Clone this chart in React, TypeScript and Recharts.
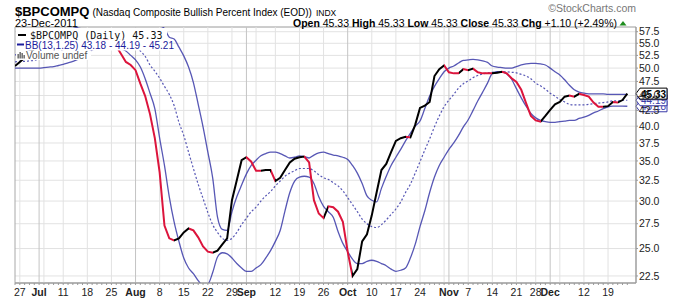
import { LineChart, Line, XAxis, YAxis, CartesianGrid, ReferenceLine, ReferenceArea } from 'recharts';

// Daily closes, 24-Jun-2011 .. 23-Dec-2011 (one value per trading day)
const close = [
  50.4, 51.2, 52.0, 53.0, 53.8, 54.4, 55.0, 55.4, 55.6, 56.0,
  56.4, 56.6, 57.0, 57.2, 57.0, 56.8, 57.0, 56.6, 56.2, 55.8,
  55.2, 54.4, 52.8, 51.2, 50.6, 49.6, 47.1, 44.9, 41.9, 38.2,
  33.5, 27.3, 26.0, 25.8, 26.0, 26.6, 27.0, 26.8, 26.1, 25.2,
  24.7, 24.6, 24.8, 25.4, 26.0, 30.1, 32.5, 35.1, 35.5, 34.9,
  33.7, 33.7, 33.8, 33.8, 32.4, 32.8, 33.8, 34.8, 35.3, 35.5,
  35.6, 34.8, 30.1, 28.6, 28.1, 29.4, 29.3, 28.8, 27.7, 24.7,
  22.5, 23.1, 25.7, 26.4, 28.4, 31.0, 33.8, 34.6, 36.2, 37.8,
  38.2, 38.4, 38.3, 40.2, 42.9, 43.3, 43.9, 48.5, 49.8, 50.5,
  49.2, 49.0, 49.0, 49.8, 49.6, 49.9, 49.2, 49.0, 49.0, 49.0,
  49.1, 49.3, 49.0, 48.1, 47.4, 46.0, 43.7, 41.6, 40.9, 40.7,
  41.6, 42.6, 43.5, 43.9, 44.8, 45.0, 44.8, 45.3, 45.1, 44.8,
  43.8, 43.1, 43.1, 43.2, 43.9, 43.8, 44.23, 45.33,
];

const bbUpper = [
  52.6, 52.8, 53.0, 53.4, 53.8, 54.4, 55.0, 55.6, 56.2, 56.8,
  57.3, 57.8, 58.2, 58.5, 58.8, 58.9, 59.0, 59.0, 59.0, 58.9,
  58.8, 58.8, 59.0, 59.4, 59.8, 60.0, 60.0, 59.8, 59.4, 58.9,
  58.8, 58.2, 56.3, 55.9, 54.2, 52.4, 50.2, 47.3, 43.5, 39.9,
  36.2, 32.8, 28.2, 26.9, 26.8, 28.8, 30.5, 31.9, 33.3, 34.4,
  35.1, 35.7, 36.0, 36.2, 36.2, 36.0, 35.7, 35.4, 35.5, 35.7,
  35.6, 35.4, 35.8, 36.1, 36.2, 36.0, 35.8, 35.7, 35.5, 35.2,
  34.4, 33.4, 32.1, 30.6, 30.1, 29.9, 31.5, 33.0, 34.4, 35.5,
  36.6, 37.8, 38.9, 40.0, 40.8, 42.8, 44.9, 46.6, 48.0, 49.3,
  50.0, 50.4, 51.0, 51.5, 51.6, 51.7, 51.6, 51.4, 51.1, 50.4,
  50.2, 50.1, 50.0, 50.0, 50.3, 50.6, 50.8, 50.9, 50.9, 50.8,
  50.6, 50.0, 49.3, 48.7, 47.8, 46.8, 46.0, 45.6, 45.4, 45.3,
  45.3, 45.3, 45.3, 45.2, 45.2, 45.2, 45.2, 45.21,
];

const bbMid = [
  51.2, 51.3, 51.3, 51.4, 51.5, 51.8, 52.1, 52.5, 52.9, 53.3,
  53.7, 54.1, 54.5, 54.9, 55.3, 55.6, 55.9, 56.0, 56.1, 56.2,
  56.2, 56.1, 55.9, 55.5, 54.9, 54.2, 53.4, 52.3, 50.6, 49.4,
  48.1, 46.6, 45.2, 43.3, 40.6, 38.6, 36.2, 34.0, 32.0, 30.3,
  28.7, 27.4, 26.6, 26.0, 25.8, 26.0, 26.6, 27.4, 28.1, 28.8,
  29.3, 30.0, 30.6, 31.1, 31.8, 32.4, 33.0, 33.4, 33.7, 34.0,
  34.0, 34.0, 33.7, 33.2, 32.8, 32.6, 32.2, 31.8, 31.2, 30.4,
  29.6, 28.8, 28.0, 27.5, 27.2, 27.1, 27.4, 27.9, 28.5, 29.1,
  29.9, 31.0, 32.0, 33.4, 34.9, 36.5, 38.1, 39.9, 41.6, 43.1,
  44.2, 45.2, 46.3, 47.1, 47.6, 48.2, 48.6, 48.9, 49.1, 49.2,
  49.3, 49.3, 49.3, 49.2, 49.1, 48.8, 48.5, 48.0, 47.2, 46.7,
  46.1, 45.4, 44.9, 44.3, 43.9, 43.5, 43.4, 43.4, 43.4, 43.5,
  43.6, 43.7, 43.8, 43.9, 44.1, 44.1, 44.2, 44.19,
];

const bbLower = [
  50.0, 50.0, 50.0, 50.0, 50.0, 50.0, 50.1, 50.2, 50.3, 50.5,
  50.7, 51.0, 51.3, 51.7, 52.4, 53.0, 53.6, 54.0, 54.2, 54.3,
  54.2, 54.0, 53.8, 53.4, 52.5, 51.6, 50.2, 48.0, 45.4, 42.8,
  38.2, 34.4, 30.5, 27.7, 25.7, 24.1, 23.2, 22.7, 22.1, 21.7,
  21.8, 22.8, 24.2, 24.6, 24.5, 24.1, 23.6, 23.2, 22.9, 22.9,
  23.2, 23.5, 24.1, 24.8, 25.7, 26.8, 28.9, 31.0, 32.4, 32.9,
  33.0, 32.9, 32.1, 30.5, 29.4, 28.8, 28.2, 26.7, 25.5, 24.7,
  24.0, 23.6, 23.6, 23.8, 23.9, 23.8, 23.6, 23.4, 23.1, 22.9,
  23.0, 23.2, 24.1, 25.4, 27.2, 28.9, 31.0, 32.9, 34.4, 35.5,
  36.6, 37.5, 38.6, 39.9, 41.0, 42.5, 44.1, 45.6, 47.2, 49.0,
  49.3, 49.3, 48.9, 47.9, 46.2, 44.6, 43.2, 42.0, 41.3, 40.9,
  40.7, 40.6, 40.6, 40.7, 40.8, 40.9, 40.9, 41.2, 41.4, 41.7,
  42.1, 42.4, 42.8, 43.1, 43.2, 43.2, 43.2, 43.18,
];

// trading-day index of each date label on the x axis
const tickDays = [1, 5, 10, 15, 20, 25, 30, 35, 40, 45, 48, 54, 59, 64, 69, 74, 79, 84, 90, 94, 99, 104, 108, 111, 118, 123];
const tickLabels = ['27', 'Jul', '11', '18', '25', 'Aug', '8', '15', '22', '29', 'Sep', '12', '19', '26', 'Oct', '10', '17', '24', 'Nov', '7', '14', '21', '28', 'Dec', '12', '19'];
const monthNames = ['Jul', 'Aug', 'Sep', 'Oct', 'Nov', 'Dec'];

const weekLines = [1, 6, 10, 15, 20, 30, 35, 40, 45, 50, 54, 59, 64, 74, 79, 84, 89, 94, 99, 104, 108, 113, 118, 123];
const monthLines = [5, 25, 48, 69, 90, 111];

const yTicks = [22.5, 25, 27.5, 30, 32.5, 35, 37.5, 40, 42.5, 45, 47.5, 50, 52.5, 55, 57.5];

const lastClose = 45.33;
const lastBands = [43.18, 44.19, 45.21];

const X_MAX = 128.8;
const Y_MIN = 21.9;
const Y_MAX = 58.55;

const UP = '#000000';
const DOWN = '#dc143c';
const BAND = '#3a3aa8';
const FONT = '"Liberation Sans", Arial, sans-serif';

const data = close.map((c, i) => ({
  i,
  close: c,
  upper: bbUpper[i],
  mid: bbMid[i],
  lower: bbLower[i],
}));
const allDays = data.map((d) => d.i);

// black when the close rises, red when it falls: one hard-stop gradient along x
const gradStops: { offset: number; color: string }[] = [];
let prevColor = UP;
for (let i = 1; i < close.length; i++) {
  const color = close[i] > close[i - 1] ? UP : close[i] < close[i - 1] ? DOWN : prevColor;
  gradStops.push({ offset: (i - 1) / (close.length - 1), color });
  gradStops.push({ offset: i / (close.length - 1), color });
  prevColor = color;
}

function DayTick(props: any) {
  const { x, y, payload } = props;
  const k = tickDays.indexOf(payload.value);
  if (k < 0) return <g />;
  const label = tickLabels[k];
  const bold = monthNames.includes(label);
  return (
    <text x={x} y={y + 9} textAnchor="middle" fontSize={10.5} fontFamily={FONT} fontWeight={bold ? 700 : 400} fill="#222">
      {label}
    </text>
  );
}

function PriceTag(props: any) {
  const { viewBox, text, color, bold } = props;
  const x0 = viewBox.x + viewBox.width;
  const y = viewBox.y;
  const pts = `${x0},${y} ${x0 + 4},${y - 5.5} ${x0 + 31},${y - 5.5} ${x0 + 31},${y + 5.5} ${x0 + 4},${y + 5.5}`;
  return (
    <g>
      <polygon points={pts} fill="#fff" stroke={color} strokeWidth={1} />
      <text x={x0 + 5} y={y + 4} fontSize={10} fontFamily={FONT} fontWeight={bold ? 700 : 400} fill={color}>
        {text}
      </text>
    </g>
  );
}

export default function App() {
  return (
    <div style={{ position: 'absolute', left: 0, top: 0, width: 674, height: 300, background: '#fff' }}>
      <svg width={0} height={0} style={{ position: 'absolute' }}>
        <defs>
          <linearGradient id="closeStroke" x1="0" y1="0" x2="1" y2="0">
            {gradStops.map((s, k) => (
              <stop key={k} offset={s.offset} stopColor={s.color} />
            ))}
          </linearGradient>
        </defs>
      </svg>

      <LineChart width={674} height={300} data={data} margin={{ top: 27, right: 0, bottom: 0, left: 15 }}>
        <CartesianGrid vertical={false} stroke="#e2e2e2" />
        {weekLines.map((d) => (
          <ReferenceLine key={`w${d}`} x={d} stroke="#e2e2e2" />
        ))}
        {monthLines.map((d) => (
          <ReferenceLine key={`m${d}`} x={d} stroke="#c4c4c4" />
        ))}
        <XAxis
          dataKey="i"
          type="number"
          domain={[0, X_MAX]}
          allowDataOverflow
          ticks={allDays}
          interval={0}
          tickSize={2}
          tickLine={{ stroke: '#999' }}
          axisLine={{ stroke: '#999' }}
          height={17}
          tick={<DayTick />}
        />
        <YAxis
          orientation="right"
          type="number"
          scale="log"
          domain={[Y_MIN, Y_MAX]}
          allowDataOverflow
          ticks={yTicks}
          interval={0}
          width={38}
          tickSize={2}
          tickMargin={1}
          tickLine={{ stroke: '#999' }}
          axisLine={{ stroke: '#999' }}
          tick={{ fontSize: 10.5, fill: '#222', fontFamily: FONT }}
          tickFormatter={(v) => Number(v).toFixed(1)}
        />
        <ReferenceArea x1={0} x2={X_MAX} y1={Y_MIN} y2={Y_MAX} fill="none" stroke="#a8a8a8" />
        <Line type="monotone" dataKey="upper" stroke={BAND} strokeOpacity={0.85} strokeWidth={1.3} dot={false} isAnimationActive={false} />
        <Line type="monotone" dataKey="lower" stroke={BAND} strokeOpacity={0.85} strokeWidth={1.3} dot={false} isAnimationActive={false} />
        <Line type="monotone" dataKey="mid" stroke={BAND} strokeOpacity={0.85} strokeWidth={1.2} strokeDasharray="2 2" dot={false} isAnimationActive={false} />
        <Line type="linear" dataKey="close" stroke="url(#closeStroke)" strokeWidth={2} dot={false} isAnimationActive={false} />
        {lastBands.map((v) => (
          <ReferenceLine key={`t${v}`} y={v} stroke="none" label={<PriceTag text={v.toFixed(2)} color={BAND} />} />
        ))}
        <ReferenceLine y={lastClose} stroke="none" label={<PriceTag text={lastClose.toFixed(2)} color="#000" bold />} />
      </LineChart>

      <svg width={674} height={300} style={{ position: 'absolute', left: 0, top: 0, pointerEvents: 'none' }}>
        {/* header */}
        <text x={15} y={16} fontFamily={FONT} fill="#000">
          <tspan fontSize={13} fontWeight={700}>$BPCOMPQ</tspan>
          <tspan fontSize={10} dx={3}>(Nasdaq Composite Bullish Percent Index (EOD))</tspan>
          <tspan fontSize={8.5} dx={4}>INDX</tspan>
        </text>
        <text x={15} y={27} fontFamily={FONT} fontSize={11} fill="#000">23-Dec-2011</text>
        <text x={636} y={12} textAnchor="end" fontFamily={FONT} fontSize={10.5} fill="#777">©StockCharts.com</text>
        <text x={617} y={26.5} textAnchor="end" fontFamily={FONT} fontSize={10.5} fill="#000">
          <tspan fontWeight={700}>Open</tspan> 45.33 <tspan fontWeight={700}>High</tspan> 45.33{' '}
          <tspan fontWeight={700}>Low</tspan> 45.33 <tspan fontWeight={700}>Close</tspan> 45.33{' '}
          <tspan fontWeight={700}>Chg</tspan> +1.10 (+2.49%)
        </text>
        <path d="M619.5,25.5 L626.5,25.5 L623,21 Z" fill="#1e8c1e" />

        {/* legend */}
        <rect x={16} y={28} width={151} height={11.5} fill="#fff" />
        <rect x={16} y={39.5} width={153} height={11} fill="#fff" />
        <rect x={16} y={50.5} width={75} height={9.5} fill="#fff" />
        <line x1={18} y1={35} x2={26} y2={35} stroke="#000" strokeWidth={2} />
        <text x={30} y={38.5} fontFamily='"DejaVu Sans Mono", monospace' fontSize={10} fill="#111">$BPCOMPQ (Daily) 45.33</text>
        <line x1={17} y1={44.5} x2={24} y2={44.5} stroke="#1c1c9c" strokeWidth={2} />
        <text x={25} y={48.5} fontFamily={FONT} fontSize={10} fill="#1c1c9c">BB(13,1.25) 43.18 - 44.19 - 45.21</text>
        <rect x={17.5} y={54} width={1.3} height={4.5} fill="#555" />
        <rect x={19.5} y={52} width={1.3} height={6.5} fill="#555" />
        <rect x={21.5} y={53} width={1.3} height={5.5} fill="#555" />
        <rect x={23.5} y={55} width={1.3} height={3.5} fill="#555" />
        <text x={26} y={58.5} fontFamily={FONT} fontSize={10} fill="#555">Volume undef</text>
      </svg>
    </div>
  );
}
